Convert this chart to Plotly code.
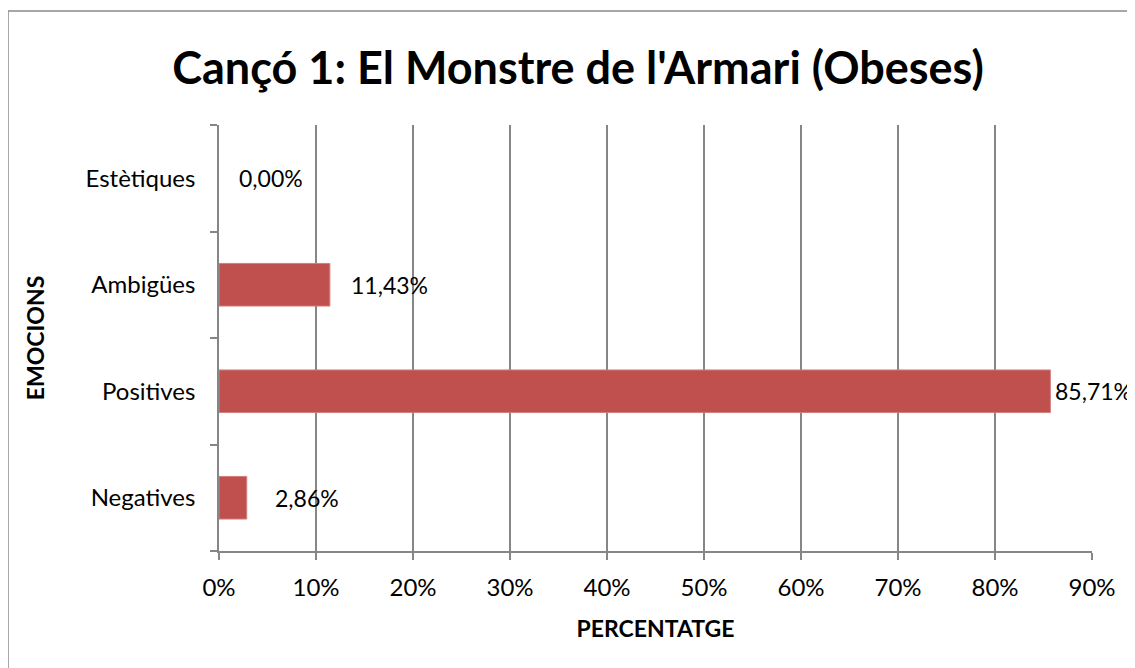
import plotly.graph_objects as go

categories = ["Negatives", "Positives", "Ambigües", "Estètiques"]
values = [2.86, 85.71, 11.43, 0.00]
labels = ["2,86%", "85,71%", "11,43%", "0,00%"]
tick_vals = [0, 10, 20, 30, 40, 50, 60, 70, 80, 90]
tick_text = ["0%", "10%", "20%", "30%", "40%", "50%", "60%", "70%", "80%", "90%"]

label_shift = [26, 3, 19, 18]
edge_width = [1, 1, 1, 0]

FONT = "Lato"
GRID = "#868686"

# plot area in figure pixels (page is offset by 8px body margin)
L, R, T, B = 211, 1084, 117, 543
W, H = 1127, 660

fig = go.Figure()
fig.add_trace(go.Bar(
    x=values, y=categories, orientation="h",
    marker=dict(color="#C0504D", line=dict(color="#D27F7D", width=edge_width)),
    width=0.4, showlegend=False, hoverinfo="skip",
))

for v, c, t, s in zip(values, categories, labels, label_shift):
    fig.add_annotation(x=v, y=c, xref="x", yref="y", text=t, showarrow=False,
                       xanchor="left", yanchor="middle", xshift=s,
                       font=dict(family=FONT, size=23, color="black"))

fig.add_shape(type="rect", xref="paper", yref="paper",
              x0=(0 - L) / (R - L), x1=1.3, y0=-0.5, y1=(B - 3) / (B - T),
              line=dict(color="#8a8a8a", width=1.5), fillcolor="rgba(0,0,0,0)", layer="below")

fig.update_layout(
    width=W, height=H,
    margin=dict(l=L, r=W - R, t=T, b=H - B),
    paper_bgcolor="white", plot_bgcolor="white",
    title=dict(text="<b>Cançó 1: El Monstre de l'Armari (Obeses)</b>",
               x=570 / W, xanchor="center", y=1 - 60 / H, yanchor="middle",
               font=dict(family=FONT, size=45, color="black")),
    xaxis=dict(range=[0, 90], tickvals=tick_vals, ticktext=tick_text,
               showgrid=True, gridcolor=GRID, gridwidth=1.5,
               showline=True, linecolor=GRID, linewidth=1.5,
               ticks="outside", ticklen=7, tickcolor=GRID, tickwidth=1.5,
               ticklabelstandoff=7,
               tickfont=dict(family=FONT, size=24, color="black"),
               zeroline=False,
               title=dict(text="<b>PERCENTATGE</b>", standoff=21,
                          font=dict(family=FONT, size=23, color="black"))),
    yaxis=dict(categoryorder="array", categoryarray=categories,
               showgrid=False, showline=True, linecolor=GRID, linewidth=1.5,
               ticks="outside", ticklen=7, tickcolor=GRID, tickwidth=1.5,
               tickson="boundaries", ticklabelstandoff=17,
               tickfont=dict(family=FONT, size=24, color="black"),
               title=dict(text="<b>EMOCIONS</b>", standoff=35,
                          font=dict(family=FONT, size=23, color="black"))),
)

fig.write_html("out.html")
